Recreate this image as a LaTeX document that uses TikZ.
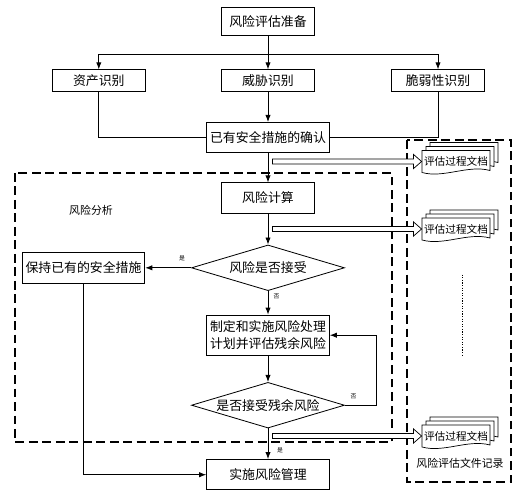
\documentclass[tikz,border=0pt]{standalone}
\usepackage{fontspec}
\setmainfont{Noto Sans CJK SC}
\usepackage{tikz}
\usetikzlibrary{shapes,arrows,arrows.meta,positioning,calc}

% stacked documents: name, left x, top y, text
\newcommand{\docstack}[4]{%
  \foreach \s in {8,4,0}{
    \begin{scope}[shift={(#2+\s,#3-\s)}]
      \draw[docpage] (0,0) -- (68,0) -- (68,20) .. controls (46,14) and (22,28) .. (0,22) -- cycle;
    \end{scope}
  }
  \node[doctext] (#1) at (#2+34,#3+11) {#4};
}
% hollow block arrow from a vertical line to a document
\newcommand{\hollowarrow}[2]{%
  \draw[hollow] ($(#1 |- #2.west)+(0,-2.5)$) -- ($(#2.west)+(-8,-2.5)$) -- ($(#2.west)+(-8,-7)$)
    -- (#2.west) -- ($(#2.west)+(-8,7)$) -- ($(#2.west)+(-8,2.5)$) -- ($(#1 |- #2.west)+(0,2.5)$) -- cycle;
}

\begin{document}
\begin{tikzpicture}[x=0.03cm, y=-0.03cm, line width=0.7pt, font=\fontsize{11}{15}\selectfont]
  \tikzstyle{box} = [rectangle, draw, fill=white, minimum width=3.68cm, minimum height=0.91cm, inner sep=1pt, align=center]
  \tikzstyle{smallbox} = [box, minimum width=2.78cm, minimum height=0.66cm]
  \tikzstyle{decision} = [diamond, draw, fill=white, aspect=3.4, minimum width=4.59cm, minimum height=1.37cm, inner sep=0pt]
  \tikzstyle{flow} = [-{Latex[length=6pt,width=4.5pt]}]
  \tikzstyle{tag} = [font=\fontsize{5}{6}\selectfont, inner sep=0pt]
  \tikzstyle{note} = [font=\fontsize{9.3}{11}\selectfont]
  \tikzstyle{region} = [dash pattern=on 7.5pt off 4pt, line width=0.9pt]
  \tikzstyle{docpage} = [draw, fill=white, line width=0.6pt]
  \tikzstyle{doctext} = [font=\fontsize{9.1}{11}\selectfont, minimum width=2.04cm, inner sep=0pt]
  \tikzstyle{hollow} = [draw, fill=white, line width=0.6pt]

  \useasboundingbox (0,0) rectangle (529,496);

  % dashed regions
  \draw[region] (15,173) rectangle (392,442);
  \draw[region] (407,140) rectangle (511,482);
  \node[note] (analysis) at (91,210.6) {风险分析};
  \node[note] (records) at (460,463) {风险评估文件记录};
  \draw[dash pattern=on 1pt off 1.2pt, line width=0.9pt] (462.8,274.7) -- (462.8,357);

  % identification
  \node[box, minimum width=2.81cm, minimum height=0.84cm] (prep) at (268,21.4) {风险评估准备};
  \node[smallbox] (asset) at (98.8,80.8) {资产识别};
  \node[smallbox] (threat) at (268,80.8) {威胁识别};
  \node[smallbox] (vuln) at (438,80.8) {脆弱性识别};
  \node[box] (confirm) at (268,137.6) {已有安全措施的确认};

  \coordinate (split) at (268,54);
  \draw (prep) -- (split);
  \draw[flow] (split) -| (asset);
  \draw[flow] (split) -| (vuln);
  \draw[flow] (split) -- (threat);
  \draw[flow] (threat) -- (confirm);
  \draw (asset) |- (confirm);
  \draw (vuln) |- (confirm);

  % analysis
  \node[box, minimum width=2.81cm] (calc) at (268,198) {风险计算};
  \node[decision] (d1) at (268,267.8) {风险是否接受};
  \node[box] (keep) at (83.5,267.8) {保持已有的安全措施};
  \node[box, minimum height=1.21cm] (treat) at (268,335.2) {制定和实施风险处理\\计划并评估残余风险};
  \node[decision] (d2) at (268,405.2) {是否接受残余风险};
  \node[box] (manage) at (268,474.7) {实施风险管理};

  \draw[flow] (confirm) -- (calc);
  \draw[flow] (calc) -- (d1);
  \draw[flow] (d1) -- (keep);
  \node[tag] (yes1) at (182,258) {是};
  \draw[flow] (d1) -- (treat);
  \node[tag] (no1) at (276.6,296.6) {否};
  \draw[flow] (treat) -- (d2);
  \draw[flow] (d2.east) -- ++(31,0) |- (treat.east);
  \node[tag] (no2) at (353.5,396) {否};
  \draw[flow] (d2) -- (manage);
  \node[tag] (yes2) at (280,450) {是};
  \draw[flow] (keep) |- (manage);

  % process documents
  \docstack{doc1}{422}{150.5}{评估过程文档}
  \docstack{doc2}{422}{218}{评估过程文档}
  \docstack{doc3}{422}{425}{评估过程文档}
  \coordinate (hstart) at (272.5,0);
  \hollowarrow{hstart}{doc1}
  \hollowarrow{hstart}{doc2}
  \hollowarrow{hstart}{doc3}
\end{tikzpicture}
\end{document}
